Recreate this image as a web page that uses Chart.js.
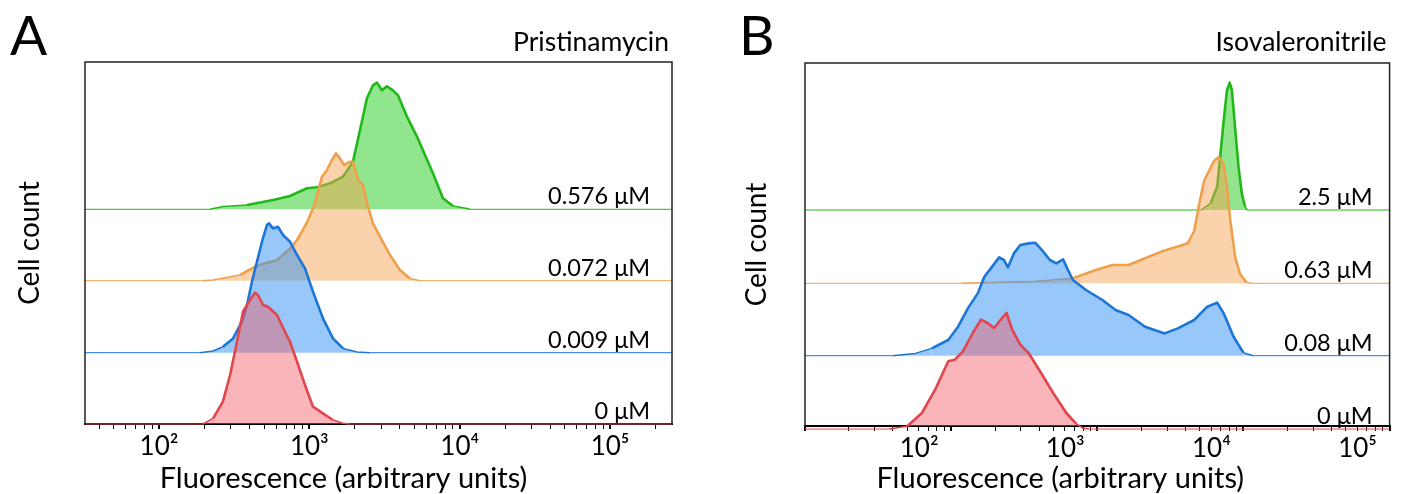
<!DOCTYPE html>
<html>
<head>
<meta charset="utf-8">
<script src="https://cdn.jsdelivr.net/npm/chart.js@4.4.0/dist/chart.umd.min.js"></script>
<style>
  html, body { margin: 0; padding: 0; background: #fff; }
  #wrap { position: relative; width: 1411px; height: 494px; }
  #chartA { position: absolute; left: 0; top: 0; }
  #chartB { position: absolute; left: 700px; top: 0; }
</style>
</head>
<body>
<div id="wrap">
  <canvas id="chartA" width="700" height="494"></canvas>
  <canvas id="chartB" width="711" height="494"></canvas>
</div>
<script>
// ---- data (x = fluorescence, y = cell count, arbitrary) ----
const rowLabelsA = ["0 \u03bcM", "0.009 \u03bcM", "0.072 \u03bcM", "0.576 \u03bcM"];
const rowLabelsB = ["0 \u03bcM", "0.08 \u03bcM", "0.63 \u03bcM", "2.5 \u03bcM"];

const xTickValues = [100, 1000, 10000, 100000];
const xTickLabels = ["10\u00b2", "10\u00b3", "10\u2074", "10\u2075"];

// Pristinamycin
const aRedX = [196, 229, 266, 297, 330, 362, 403, 435, 455, 492, 531, 609, 688, 743, 828, 935, 1057, 1231, 1435, 1673, 1862];
const aRedY = [0, 5.7, 22.3, 49, 82.3, 112.3, 124, 131.3, 129, 119, 117.3, 109, 92.3, 82.3, 62.3, 39, 17.3, 10.7, 4, 0.7, 0];
const aBlueX = [187, 229, 266, 311, 356, 385, 415, 448, 484, 522, 539, 573, 618, 668, 743, 828, 935, 1057, 1231, 1435, 1673, 2073, 2529];
const aBlueY = [0, 1.7, 6, 14.3, 31, 47.7, 71, 91, 111, 127.7, 129.3, 124.3, 126, 117.7, 111, 97.7, 84.3, 61, 34.3, 14.3, 4.3, 0.7, 0];
const aOrangeX = [196, 229, 346, 448, 609, 743, 828, 964, 1089, 1213, 1309, 1413, 1503, 1598, 1699, 1862, 1950, 2104, 2273, 2452, 2648, 2948, 3436, 4003, 4667, 5438];
const aOrangeY = [0, 0.7, 5.7, 15, 20.7, 32, 40.7, 58, 77.3, 104, 110.7, 120.7, 127.3, 122.3, 115.7, 119, 119, 100.7, 95.7, 74, 57.3, 44, 25.7, 10.7, 2.3, 0];
const aGreenX = [218, 267, 385, 573, 743, 964, 1123, 1371, 1673, 1950, 2170, 2415, 2648, 2815, 3039, 3281, 3597, 3882, 4456, 5194, 5692, 6635, 7731, 9013, 11167, 11690];
const aGreenY = [0, 2.7, 4.3, 9.3, 13.3, 21, 22, 26, 32.7, 47.7, 79, 111, 124, 126.7, 119, 123, 119, 114, 92.7, 72.7, 59, 36, 11, 3.3, 0.7, 0];

// Isovaleronitrile
const bRedX = [37.6, 50, 63.1, 77.7, 95.5, 105.9, 120.4, 140.7, 160, 177.5, 197, 218.2, 239.4, 261.5, 297.4, 338.8, 405.6, 499.3, 613.8, 716.4, 795, 880.7];
const bRedY = [0, 2.7, 16, 39.3, 67.7, 69.3, 77.7, 96, 109.3, 106, 101, 109.3, 116, 99.3, 84.3, 76, 57.7, 36, 16, 5.3, 1, 0];
const bBlueX = [39.6, 56.9, 73.7, 95.5, 111.5, 130.2, 152, 168.7, 186.8, 212.8, 230, 244.6, 268.5, 297.4, 338.8, 375.3, 427.6, 473.7, 525.5, 583.2, 630.1, 680.7, 836.7, 1084, 1332, 1637, 2121, 2892, 3555, 4606, 5660, 6611, 7335, 8564, 10000, 11675];
const bBlueY = [0, 2.3, 7.3, 15.7, 29, 47.3, 62.3, 79, 87.3, 98.3, 95.7, 88.3, 102.3, 110.7, 112.3, 113, 104, 95.7, 92.3, 96.3, 85.7, 75.7, 65.7, 55.7, 45.7, 40.7, 29, 22.3, 27.3, 35.7, 49, 53, 42.3, 19, 3, 0];
const bOrangeX = [117, 366, 681, 977, 1266, 1637, 2121, 2748, 3555, 4151, 4606, 4977, 5378, 5811, 6281, 6787, 7335, 7718, 8136, 8793, 9501, 10524, 11370];
const bOrangeY = [0, 1.7, 5, 13.3, 18.3, 18.3, 25, 31.7, 36.7, 40, 52.3, 79, 102.3, 112.3, 122.3, 126.3, 119, 95.7, 62.3, 25.7, 9, 0.7, 0];
const bGreenX = [5109, 5966, 6611, 6969, 7335, 7718, 8049, 8341, 8793, 9254, 9740, 10266, 10640];
const bGreenY = [0, 6.7, 23.3, 56.7, 90, 120, 127.3, 120, 80, 43.3, 16.7, 3.3, 0];

// stacking offsets of each histogram (bottom row first)
const rowBaseA = [0, 71.3, 143.3, 214.7];
const rowBaseB = [-3, 70.3, 142.7, 216];

const lineColors = ["#e2464c", "#1c76d6", "#f0a04c", "#22b81a"];
const fillColors = ["rgba(242,92,100,0.45)", "rgba(50,145,245,0.5)", "rgba(245,160,80,0.48)", "rgba(45,205,35,0.52)"];

Chart.defaults.font.family = "Lato, 'Open Sans', sans-serif";
Chart.defaults.color = "#000";

function histogram(xs, ys, base, i, xMin, xMax) {
  const pts = xs.map((x, k) => ({ x, y: base + ys[k] }));
  return {
    data: [{ x: xMin, y: base }, ...pts, { x: xMax, y: base }],
    borderColor: lineColors[i],
    backgroundColor: fillColors[i],
    fill: { value: base },
    pointRadius: 0,
    tension: 0,
    borderJoinStyle: "round",
    clip: { left: 0, top: 0, right: 0, bottom: 5 },
    segment: {
      borderWidth: (ctx) => {
        const h = Math.max(ctx.p0.parsed.y, ctx.p1.parsed.y) - base;
        return h < 0.5 ? 1 : h < 8 ? 1.5 : 2.6;
      },
    },
  };
}

// frame, panel letter, panel title, x-axis title and row labels
const panelDecor = {
  id: "panelDecor",
  afterDraw(chart, args, opts) {
    const { ctx, chartArea: ca, scales } = chart;
    ctx.save();
    ctx.strokeStyle = "#222";
    ctx.lineWidth = 1.5;
    ctx.beginPath();
    ctx.moveTo(ca.left, ca.bottom);
    ctx.lineTo(ca.left, ca.top);
    ctx.lineTo(ca.right, ca.top);
    ctx.lineTo(ca.right, ca.bottom);
    ctx.stroke();

    ctx.fillStyle = "#000";
    ctx.textBaseline = "alphabetic";
    ctx.textAlign = "left";
    ctx.font = "55px Lato, sans-serif";
    ctx.fillText(opts.letter, opts.letterX, 55);

    ctx.textAlign = "right";
    ctx.font = "26.5px Lato, sans-serif";
    ctx.fillText(opts.title, ca.right - 3, 51);

    ctx.font = "23.5px Lato, sans-serif";
    opts.labels.forEach((t, i) => {
      ctx.fillText(t, ca.right - opts.labelInset, scales.y.getPixelForValue(opts.bases[i]) - 5);
    });

    ctx.textAlign = "center";
    ctx.font = "29px Lato, sans-serif";
    ctx.fillText("Fluorescence (arbitrary units)", (ca.left + ca.right) / 2 + opts.xTitleShift, 488);
    ctx.restore();
  },
};

function makeChart(id, cfg) {
  const xMin = cfg.xMin, xMax = cfg.xMax;
  const datasets = cfg.series.map(([xs, ys], i) => histogram(xs, ys, cfg.bases[i], i, xMin, xMax));
  return new Chart(document.getElementById(id), {
    type: "line",
    data: { datasets },
    plugins: [panelDecor],
    options: {
      responsive: false,
      animation: false,
      layout: { padding: { top: cfg.top, right: cfg.right, left: 0, bottom: 0 } },
      plugins: {
        legend: { display: false },
        tooltip: { enabled: false },
        panelDecor: {
          letter: cfg.letter, letterX: cfg.letterX, title: cfg.title,
          labels: cfg.labels, bases: cfg.bases, labelInset: cfg.labelInset, xTitleShift: cfg.xTitleShift,
        },
      },
      scales: {
        x: {
          type: "logarithmic",
          min: xMin,
          max: xMax,
          afterFit: (s) => { s.height = cfg.xAxisHeight; },
          afterBuildTicks: (s) => {
            const ticks = [];
            for (let e = 1; e <= 5; e++) {
              for (let m = 1; m <= 9; m++) {
                const v = m * Math.pow(10, e);
                if (v >= xMin && v <= xMax) ticks.push({ value: v, major: m === 1 });
              }
            }
            s.ticks = ticks;
          },
          border: { display: true, color: "#000", width: 2 },
          grid: {
            display: true,
            drawOnChartArea: false,
            drawTicks: true,
            tickLength: 5,
            color: "#000",
            lineWidth: (c) => (c.tick && c.tick.major ? 2 : 1),
          },
          ticks: {
            autoSkip: false,
            maxRotation: 0,
            padding: 2,
            labelOffset: cfg.labelOffset,
            font: { size: 26 },
            color: "#000",
            callback: (v) => {
              const k = xTickValues.findIndex((t) => Math.abs(t - v) / t < 1e-6);
              return k >= 0 ? xTickLabels[k] : "";
            },
          },
          title: { display: false },
        },
        y: {
          type: "linear",
          min: 0,
          max: cfg.yMax,
          afterFit: (s) => { s.width = cfg.yAxisWidth; },
          ticks: { display: false },
          grid: { display: false },
          border: { display: false },
          title: {
            display: true,
            text: "Cell count",
            font: { size: 28 },
            color: "#000",
            padding: { top: cfg.yTitlePad, bottom: 0 },
          },
        },
      },
    },
  });
}

makeChart("chartA", {
  letter: "A", letterX: 10, title: "Pristinamycin",
  labels: rowLabelsA, bases: rowBaseA, labelInset: 22,
  series: [[aRedX, aRedY], [aBlueX, aBlueY], [aOrangeX, aOrangeY], [aGreenX, aGreenY]],
  xMin: 32.2, xMax: 258000, yMax: 362,
  top: 62, right: 28, yAxisWidth: 85, xAxisHeight: 70,
  yTitlePad: 13, labelOffset: 0, xTitleShift: -35,
});

makeChart("chartB", {
  letter: "B", letterX: 39, title: "Isovaleronitrile",
  labels: rowLabelsB, bases: rowBaseB, labelInset: 17,
  series: [[bRedX, bRedY], [bBlueX, bBlueY], [bOrangeX, bOrangeY], [bGreenX, bGreenY]],
  xMin: 10, xMax: 100000, yMax: 363,
  top: 63, right: 14, yAxisWidth: 105, xAxisHeight: 68,
  yTitlePad: 40, labelOffset: -32, xTitleShift: -37,
});
</script>
</body>
</html>
